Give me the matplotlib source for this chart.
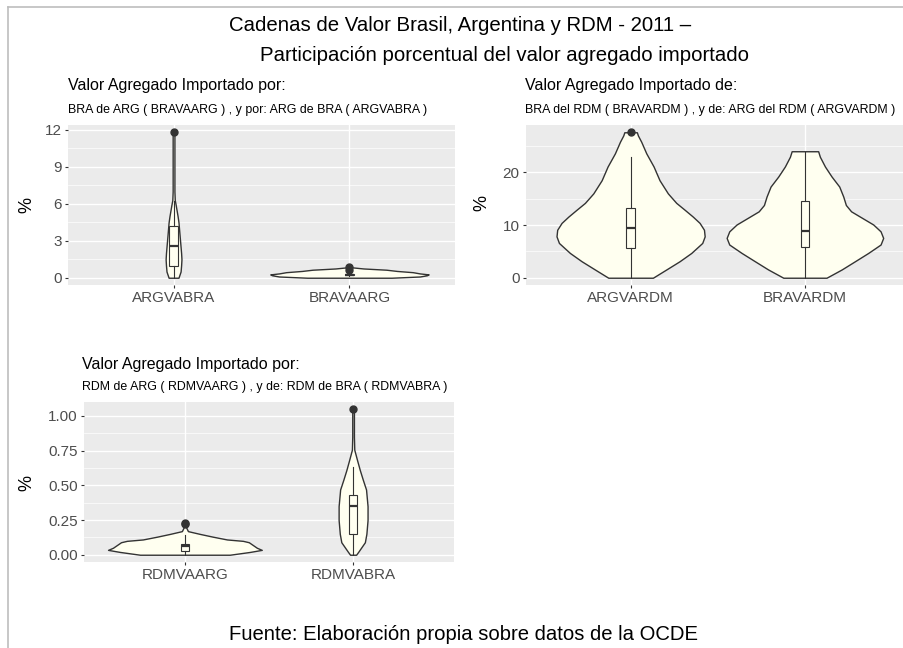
import matplotlib
matplotlib.use("Agg")
import matplotlib.pyplot as plt
from matplotlib.lines import Line2D
from matplotlib.ticker import MultipleLocator, FormatStrFormatter

plt.rcParams["font.family"] = ["Liberation Sans", "DejaVu Sans"]

W, H = 904, 648

# --- panel 1: BRA de ARG / ARG de BRA ---
cats_1 = ["ARGVABRA", "BRAVAARG"]
argvabra_y = [0, 0.5, 1.0, 1.5, 2.0, 2.5, 3.0, 3.5, 4.0, 4.5, 5.0, 5.5, 6.0, 6.3, 7.0, 9.0, 11.8]
argvabra_w = [0.028, 0.04, 0.043, 0.045, 0.043, 0.04, 0.037, 0.034, 0.031, 0.028, 0.023,
              0.017, 0.011, 0.007, 0.005, 0.005, 0.005]
bravaarg_y = [0, 0.1, 0.2, 0.27, 0.35, 0.45, 0.55, 0.65, 0.75, 0.85]
bravaarg_w = [0.24, 0.40, 0.44, 0.45, 0.40, 0.36, 0.27, 0.21, 0.08, 0.01]
box_1 = [  # whislo, q1, med, q3, whishi, fliers
    (0.0, 0.94, 2.56, 4.18, 6.2, [11.8]),
    (0.12, 0.2, 0.26, 0.32, 0.45, [0.85, 0.62]),
]

# --- panel 2: del RDM ---
cats_2 = ["ARGVARDM", "BRAVARDM"]
argvardm_y = [0, 1.57, 3.13, 4.7, 6.6, 7.85, 9.1, 10.4, 11.6, 12.9, 14.2, 16.0, 18.5,
              21.1, 23.6, 25.8, 27.0, 27.6]
argvardm_w = [0.128, 0.205, 0.281, 0.348, 0.411, 0.425, 0.421, 0.396, 0.357, 0.31, 0.262,
              0.214, 0.166, 0.132, 0.09, 0.061, 0.042, 0.036]
bravardm_y = [0, 1.57, 3.13, 4.7, 6.3, 7.55, 8.8, 10.1, 11.3, 12.6, 13.8, 15.4, 17.3,
              19.2, 21.1, 22.95, 24.0]
bravardm_w = [0.124, 0.211, 0.287, 0.363, 0.434, 0.449, 0.434, 0.392, 0.331, 0.265, 0.235,
              0.22, 0.197, 0.153, 0.115, 0.086, 0.076]
box_2 = [
    (0.0, 5.66, 9.43, 13.2, 22.9, [27.6]),
    (0.0, 5.8, 8.9, 14.5, 23.9, []),
]

# --- panel 3: RDM de ARG / RDM de BRA ---
cats_3 = ["RDMVAARG", "RDMVABRA"]
rdmvaarg_y = [0, 0.02, 0.035, 0.05, 0.07, 0.09, 0.10, 0.11, 0.13, 0.15, 0.17, 0.2, 0.23]
rdmvaarg_w = [0.267, 0.386, 0.457, 0.428, 0.404, 0.38, 0.345, 0.25, 0.166, 0.089, 0.018,
              0.006, 0.004]
rdmvabra_y = [0, 0.02, 0.09, 0.15, 0.25, 0.35, 0.43, 0.47, 0.54, 0.61, 0.68, 0.757, 0.85, 1.048]
rdmvabra_w = [0.018, 0.03, 0.07, 0.079, 0.086, 0.086, 0.08, 0.077, 0.058, 0.04, 0.024,
              0.007, 0.005, 0.005]
box_3 = [
    (0.0, 0.03, 0.06, 0.08, 0.14, [0.22, 0.23]),
    (0.0, 0.15, 0.348, 0.43, 0.63, [1.048]),
]

panels = [
    dict(rect=(68, 125, 455, 285), cats=cats_1, violins=[(argvabra_y, argvabra_w), (bravaarg_y, bravaarg_w)],
         box=box_1, ticks=[0, 3, 6, 9, 12], minor=1.5, fmt="%d",
         title="Valor Agregado Importado por:", title_xy=(68, 90),
         sub="BRA de ARG ( BRAVAARG ) , y por: ARG de BRA ( ARGVABRA )", sub_xy=(68, 113),
         ylab_xy=(27, 205)),
    dict(rect=(526, 125, 909.5, 285), cats=cats_2, violins=[(argvardm_y, argvardm_w), (bravardm_y, bravardm_w)],
         box=box_2, ticks=[0, 10, 20], minor=5, fmt="%d",
         title="Valor Agregado Importado de:", title_xy=(525, 90),
         sub="BRA del RDM ( BRAVARDM ) , y de: ARG del RDM ( ARGVARDM )", sub_xy=(525, 113),
         ylab_xy=(482, 203)),
    dict(rect=(84, 402, 454, 562), cats=cats_3, violins=[(rdmvaarg_y, rdmvaarg_w), (rdmvabra_y, rdmvabra_w)],
         box=box_3, ticks=[0, 0.25, 0.5, 0.75, 1.0], minor=0.125, fmt="%.2f",
         title="Valor Agregado Importado por:", title_xy=(82, 369),
         sub="RDM de ARG ( RDMVAARG ) , y de: RDM de BRA ( RDMVABRA )", sub_xy=(82, 390),
         ylab_xy=(27, 483)),
]


def fx(px):
    return px / W


def fy(py):
    return 1 - py / H


fig = plt.figure(figsize=(W / 100, H / 100), dpi=100)
fig.patch.set_facecolor("white")

# outer frame (top and left edges visible)
fig.add_artist(Line2D([fx(8), fx(8)], [fy(7), 0], color="#BDBDBD", lw=1.2))
fig.add_artist(Line2D([fx(8), 1], [fy(7), fy(7)], color="#BDBDBD", lw=1.2))

for p in panels:
    x0, y0, x1, y1 = p["rect"]
    ax = fig.add_axes([fx(x0), fy(y1), fx(x1) - fx(x0), (y1 - y0) / H])
    ax.set_facecolor("#EBEBEB")
    for s in ax.spines.values():
        s.set_visible(False)
    ax.set_axisbelow(True)

    ymax = 0
    for i, (vy, vw) in enumerate(p["violins"]):
        pos = i + 1
        ax.fill_betweenx(vy, [pos - w for w in vw], [pos + w for w in vw],
                         facecolor="#FFFFF0", edgecolor="#333333", lw=1.0, zorder=2)
        ymax = max(ymax, max(vy))

    stats = []
    for lo, q1, med, q3, hi, fl in p["box"]:
        stats.append(dict(whislo=lo, q1=q1, med=med, q3=q3, whishi=hi, fliers=fl))
        ymax = max([ymax] + fl)
    ax.bxp(stats, positions=[1, 2], widths=0.05, patch_artist=True, showcaps=False,
           boxprops=dict(facecolor="#FFFFF0", edgecolor="#333333", lw=0.8),
           whiskerprops=dict(color="#333333", lw=0.8),
           medianprops=dict(color="#333333", lw=1.6),
           flierprops=dict(marker="o", markerfacecolor="#333333", markeredgecolor="#333333",
                           markersize=5),
           zorder=3)

    pad = 0.05 * ymax
    ax.set_ylim(-pad, ymax + pad)
    ax.set_xlim(0.4, 2.6)
    ax.set_xticks([1, 2])
    ax.set_xticklabels(p["cats"])
    ax.set_yticks(p["ticks"])
    ax.yaxis.set_major_formatter(FormatStrFormatter(p["fmt"]))
    ax.yaxis.set_minor_locator(MultipleLocator(p["minor"]))
    ax.grid(which="major", color="white", lw=1.0)
    ax.grid(which="minor", axis="y", color="white", lw=0.5)
    ax.tick_params(which="major", length=2.5, width=0.8, color="#333333",
                   labelcolor="#4D4D4D", labelsize=11, pad=2)
    ax.tick_params(which="minor", length=0)

    fig.text(fx(p["title_xy"][0]), fy(p["title_xy"][1]), p["title"], fontsize=11.5,
             color="black", ha="left", va="baseline")
    fig.text(fx(p["sub_xy"][0]), fy(p["sub_xy"][1]), p["sub"], fontsize=8.9,
             color="black", ha="left", va="baseline")
    fig.text(fx(p["ylab_xy"][0]), fy(p["ylab_xy"][1]), "%", fontsize=13, rotation=90,
             color="black", ha="center", va="center")

fig.text(fx(460), fy(31), "Cadenas de Valor Brasil, Argentina y RDM - 2011 \u2013",
         fontsize=14.7, ha="center", va="baseline")
fig.text(fx(505), fy(61), "Participaci\u00f3n porcentual del valor agregado importado",
         fontsize=14.7, ha="center", va="baseline")
fig.text(fx(464), fy(640), "Fuente: Elaboraci\u00f3n propia sobre datos de la OCDE",
         fontsize=14.6, ha="center", va="baseline")

fig.savefig("out.png", dpi=100)
